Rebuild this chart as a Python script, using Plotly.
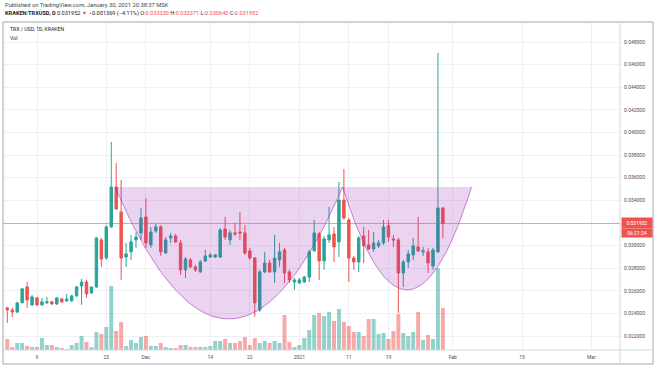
import numpy as np
import pandas as pd
import plotly.graph_objects as go

# ---------------- data (KRAKEN TRX/USD, daily) ----------------
dates = pd.date_range("2020-11-03", "2021-01-30", freq="D")

open_ = [
    0.02449, 0.02431, 0.02413, 0.02493, 0.02634, 0.02475, 0.02537, 0.02475, 0.02493, 0.02502,
    0.02484, 0.02528, 0.02511, 0.02511, 0.02555, 0.02643, 0.02678, 0.02581, 0.02634, 0.03050,
    0.02890, 0.03165, 0.03518, 0.03297, 0.02899, 0.02944, 0.03050, 0.03112,
    0.03253, 0.03006, 0.03129, 0.03165, 0.02935, 0.03067, 0.03085, 0.03023, 0.02785, 0.02873,
    0.02811, 0.02767, 0.02864, 0.02899, 0.02899, 0.02899, 0.03147, 0.03050, 0.03112, 0.03120,
    0.03112, 0.02953, 0.02890, 0.02431, 0.02767, 0.02846, 0.02767, 0.02873, 0.02961, 0.02767,
    0.02678,
    0.02669, 0.02678, 0.02722, 0.02953, 0.03103, 0.02864, 0.03050, 0.03103, 0.03032, 0.03403,
    0.03227, 0.02890, 0.02855, 0.03085, 0.03006, 0.02970, 0.02997, 0.03023, 0.03174, 0.03059,
    0.03050, 0.02758, 0.02855, 0.02917, 0.02988, 0.02944, 0.02944, 0.02820, 0.02944, 0.033330,
]
high = [
    0.02458, 0.02449, 0.02502, 0.02625, 0.02678, 0.02563, 0.02546, 0.02537, 0.02546, 0.02511,
    0.02546, 0.02537, 0.02572, 0.02563, 0.02643, 0.02705, 0.02696, 0.02634, 0.03076, 0.03067,
    0.03182, 0.03916, 0.03730, 0.03580, 0.03023, 0.03094, 0.03120, 0.03333,
    0.03421, 0.03165, 0.03191, 0.03182, 0.03076, 0.03112, 0.03103, 0.03050, 0.02899, 0.02890,
    0.02829, 0.02873, 0.02961, 0.02935, 0.02926, 0.03156, 0.03253, 0.03138, 0.03200, 0.03297,
    0.03182, 0.02979, 0.02899, 0.02785, 0.02944, 0.02873, 0.03094, 0.03023, 0.02979, 0.02785,
    0.02714,
    0.02714, 0.02731, 0.02961, 0.03227, 0.03120, 0.03085, 0.03341, 0.03165, 0.03562, 0.03677,
    0.03244, 0.02908, 0.03085, 0.03165, 0.03138, 0.03120, 0.03050, 0.03227, 0.03227, 0.03094,
    0.03067, 0.02873, 0.02961, 0.03067, 0.03253, 0.02988, 0.02979, 0.02979, 0.04703, 0.033371,
]
low = [
    0.02316, 0.02369, 0.02404, 0.02493, 0.02449, 0.02466, 0.02466, 0.02466, 0.02484, 0.02475,
    0.02475, 0.02493, 0.02502, 0.02502, 0.02546, 0.02475, 0.02537, 0.02572, 0.02625, 0.02811,
    0.02873, 0.03156, 0.03315, 0.02696, 0.02811, 0.02873, 0.02979, 0.03050,
    0.02979, 0.02979, 0.03112, 0.02908, 0.02926, 0.03023, 0.03023, 0.02740, 0.02714, 0.02802,
    0.02767, 0.02758, 0.02855, 0.02890, 0.02890, 0.02890, 0.03050, 0.03006, 0.03085, 0.03050,
    0.02917, 0.02873, 0.02369, 0.02413, 0.02758, 0.02758, 0.02669, 0.02811, 0.02669, 0.02669,
    0.02608,
    0.02661, 0.02669, 0.02678, 0.02944, 0.02696, 0.02785, 0.03023, 0.02855, 0.02899, 0.03227,
    0.02678, 0.02785, 0.02767, 0.02846, 0.02961, 0.02944, 0.02979, 0.03006, 0.03032, 0.02988,
    0.02404, 0.02634, 0.02802, 0.02873, 0.02944, 0.02908, 0.02758, 0.02785, 0.02935, 0.030640,
]
close = [
    0.02431, 0.02413, 0.02493, 0.02617, 0.02519, 0.02546, 0.02475, 0.02502, 0.02502, 0.02484,
    0.02537, 0.02502, 0.02528, 0.02555, 0.02634, 0.02678, 0.02572, 0.02634, 0.03067, 0.02881,
    0.03165, 0.03518, 0.03324, 0.02890, 0.02926, 0.03032, 0.03076, 0.03244,
    0.03023, 0.03120, 0.03165, 0.02944, 0.03050, 0.03085, 0.03032, 0.02785, 0.02881, 0.02811,
    0.02785, 0.02855, 0.02908, 0.02917, 0.02917, 0.03138, 0.03076, 0.03112, 0.03103, 0.03112,
    0.02935, 0.02890, 0.02493, 0.02767, 0.02846, 0.02767, 0.02890, 0.02944, 0.02758, 0.02696,
    0.02696,
    0.02696, 0.02722, 0.02944, 0.03112, 0.02864, 0.03059, 0.03094, 0.02988, 0.03403, 0.03244,
    0.02890, 0.02855, 0.03067, 0.02997, 0.02970, 0.03023, 0.03023, 0.03165, 0.03076, 0.03050,
    0.02758, 0.02855, 0.02926, 0.02997, 0.02953, 0.02953, 0.02846, 0.02961, 0.03333, 0.031952,
]
volume_m = [
    11, 3, 7, 7, 4, 3, 3, 12, 5, 5, 3, 2, 1, 5, 7, 14, 8, 3, 18, 16, 23, 64, 19, 28, 4, 10, 7, 13,
    14, 4, 4, 7, 3, 2, 2, 5, 5, 3, 3, 3, 3, 4, 9, 9, 11, 7, 7, 9, 13, 5, 12, 7, 9, 7, 9, 7, 35, 8, 3,
    5, 12, 20, 35, 37, 34, 38, 29, 41, 28, 24, 18, 18, 14, 31, 31, 16, 17, 11, 19,
    36, 17, 14, 18, 38, 10, 15, 11, 82, 42,
]

tick_dates = ["2020-11-09", "2020-11-23", "2020-12-01", "2020-12-14", "2020-12-22", "2021-01-01",
              "2021-01-11", "2021-01-19", "2021-02-01", "2021-02-15", "2021-03-01"]
tick_text = ["9", "23", "Dec", "14", "22", "2021", "11", "19", "Feb", "15", "Mar"]
# 0.032000 is hidden behind the last-price label in the reference
price_ticks = [0.022, 0.024, 0.026, 0.028, 0.030, 0.034, 0.036, 0.038, 0.040,
               0.042, 0.044, 0.046, 0.048]
last_price = 0.031952

# cup & handle drawing (two arcs sharing a common rim price)
arc_start = ["2020-11-24 18:00", "2021-01-09 18:00"]
arc_end = ["2021-01-09 18:00", "2021-02-04 19:00"]
arc_bottom = [0.02351, 0.02608]
arc_rim = 0.03518

# ---------------- figure ----------------
UP, DOWN = "#26a69a", "#ef5350"
vol_colors = ["rgba(38,166,154,0.5)" if c >= o else "rgba(239,83,80,0.5)"
              for o, c in zip(open_, close)]

fig = go.Figure()
fig.add_trace(go.Bar(x=dates, y=volume_m, marker_color=vol_colors, marker_line_width=0,
                     width=0.8 * 86400000, yaxis="y", hoverinfo="skip"))
fig.add_trace(go.Candlestick(
    x=dates, open=open_, high=high, low=low, close=close, yaxis="y2",
    increasing=dict(line=dict(color=UP, width=1), fillcolor=UP),
    decreasing=dict(line=dict(color=DOWN, width=1), fillcolor=DOWN),
    whiskerwidth=0, hoverinfo="skip"))

t = np.linspace(0, 1, 80)
cx, cy = [], []
for s, e, b in zip(arc_start, arc_end, arc_bottom):
    s_ns, e_ns = pd.Timestamp(s).value, pd.Timestamp(e).value
    cx.extend(pd.to_datetime((s_ns + (e_ns - s_ns) * t).astype("int64")))
    cy.extend(arc_rim + 4 * (b - arc_rim) * t * (1 - t))

fig.add_trace(go.Scatter(x=cx, y=cy, yaxis="y2", mode="lines", fill="toself",
                         fillcolor="rgba(156,39,176,0.2)", line=dict(width=0),
                         hoverinfo="skip"))
fig.add_trace(go.Scatter(x=cx, y=cy, yaxis="y2", mode="lines",
                         line=dict(color="rgba(156,39,176,0.55)", width=1),
                         hoverinfo="skip"))

GRID = "#eef0f5"
TXT = "#4a4e59"
fig.update_layout(
    width=654, height=366,
    margin=dict(l=3, r=34, t=22, b=16, pad=0, autoexpand=False),
    paper_bgcolor="white", plot_bgcolor="white", showlegend=False,
    font=dict(family="Roboto, Liberation Sans, Arial", color=TXT, size=5),
    xaxis=dict(type="date", range=["2020-11-02 03:07", "2021-03-06 18:43"],
               tickvals=tick_dates, ticktext=tick_text, showgrid=True, gridcolor=GRID,
               zeroline=False, showline=False, ticks="", tickfont=dict(size=5, color=TXT),
               ticklabelstandoff=3,
               rangeslider=dict(visible=False), fixedrange=True, automargin=False),
    yaxis=dict(range=[0, 328], visible=False, fixedrange=True, showgrid=False,
               automargin=False),
    yaxis2=dict(overlaying="y", side="right", range=[0.020763, 0.049769],
                tickvals=price_ticks, tickformat=".6f", showgrid=True, gridcolor=GRID,
                zeroline=False, showline=False, ticks="", tickfont=dict(size=5, color=TXT),
                ticklabelstandoff=3, fixedrange=True, automargin=False),
)

# price line
fig.add_shape(type="line", xref="paper", x0=0, x1=1, yref="y2", y0=last_price, y1=last_price,
              line=dict(color="rgba(239,83,80,0.6)", width=1))

# frame
FRAME = "#a3a6af"
fig.add_shape(type="rect", xref="paper", yref="paper", x0=0, x1=1.0535, y0=-0.0427, y1=1.0,
              line=dict(color=FRAME, width=1), fillcolor="rgba(0,0,0,0)", layer="above")
fig.add_shape(type="line", xref="paper", yref="paper", x0=1.0, x1=1.0, y0=-0.0427, y1=1.0,
              line=dict(color="#d6d8de", width=1), layer="above")
fig.add_shape(type="line", xref="paper", yref="paper", x0=0, x1=1.0535, y0=0, y1=0,
              line=dict(color="#d6d8de", width=1), layer="above")

# texts
RED = "#ef5350"
fig.add_annotation(xref="paper", yref="paper", x=0, y=1.0518, xanchor="left", yanchor="middle",
                   showarrow=False, font=dict(size=5.8, color="#3c3f48"),
                   text="Published on TradingView.com, January 30, 2021 20:38:37 MSK")
fig.add_annotation(
    xref="paper", yref="paper", x=0, y=1.0244, xanchor="left", yanchor="middle",
    showarrow=False, font=dict(size=5.6, color="#1e2129"),
    text=("<b>KRAKEN:TRXUSD, D</b> 0.031952 <span style='color:%s'>▼</span> "
          "−0.001369 (−4.11%%) O:<span style='color:%s'>0.033330</span> "
          "H:<span style='color:%s'>0.033371</span> L:<span style='color:%s'>0.030640</span> "
          "C:<span style='color:%s'>0.031952</span>") % (RED, RED, RED, RED, RED))
fig.add_annotation(xref="paper", yref="paper", x=0.0081, y=0.9787, xanchor="left",
                   yanchor="middle", showarrow=False, font=dict(size=5.2, color="#1e2129"),
                   text="TRX / USD, 1D, KRAKEN")
fig.add_annotation(xref="paper", yref="paper", x=0.0081, y=0.9512, xanchor="left",
                   yanchor="middle", showarrow=False, font=dict(size=5.2, color="#1e2129"),
                   text="Vol")

# last price label boxes
fig.add_annotation(xref="paper", yref="y2", x=1.0016, y=last_price, xanchor="left",
                   yanchor="middle", showarrow=False, bgcolor=RED, borderpad=0,
                   width=30, height=10, font=dict(size=5, color="white"), text="0.031952")
fig.add_annotation(xref="paper", yref="paper", x=1.0016, y=0.3567, xanchor="left",
                   yanchor="middle", showarrow=False, bgcolor=RED, borderpad=0,
                   width=30, height=8, font=dict(size=5, color="white"), text="06:21:24")

fig.write_html(
    "out.html",
    config={"displayModeBar": False, "staticPlot": True},
    post_script="document.body.style.margin='0px';document.body.style.padding='0px';"
                "document.body.style.overflow='hidden';",
)
